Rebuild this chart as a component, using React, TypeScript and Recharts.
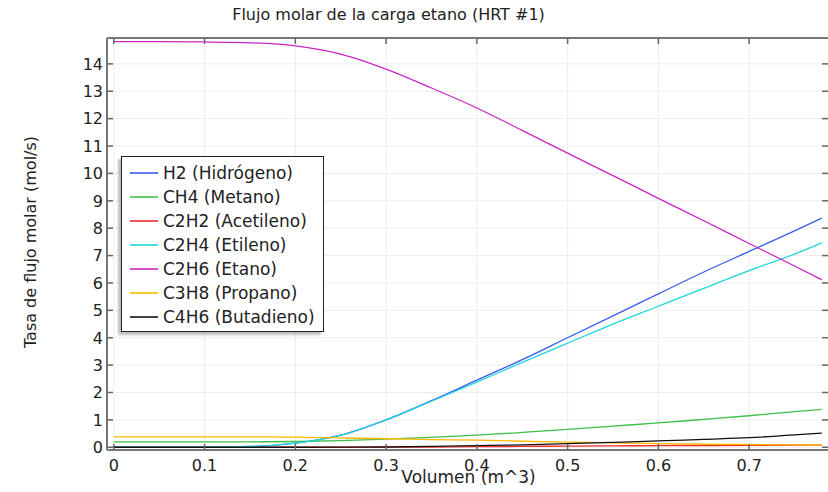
import React from "react";
import { LineChart, Line, XAxis, YAxis, CartesianGrid } from "recharts";

// Reactor volume (m^3)
const volumen = [0, 0.05, 0.1, 0.15, 0.2, 0.25, 0.3, 0.35, 0.4, 0.45, 0.5, 0.55, 0.6, 0.65, 0.7, 0.75, 0.78];

// Molar flow per species (mol/s)
const h2 = [0, 0, 0.005, 0.03, 0.15, 0.44, 1.0, 1.7, 2.45, 3.2, 4.0, 4.8, 5.6, 6.4, 7.15, 7.9, 8.37];
const ch4 = [0.2, 0.2, 0.2, 0.2, 0.21, 0.24, 0.3, 0.36, 0.44, 0.54, 0.65, 0.77, 0.89, 1.02, 1.15, 1.3, 1.38];
const c2h2 = [0, 0, 0, 0, 0, 0, 0.005, 0.01, 0.02, 0.03, 0.045, 0.05, 0.06, 0.065, 0.07, 0.075, 0.08];
const c2h4 = [0, 0, 0.005, 0.03, 0.15, 0.44, 1.0, 1.68, 2.38, 3.1, 3.8, 4.5, 5.15, 5.8, 6.45, 7.05, 7.46];
const c2h6 = [14.81, 14.81, 14.8, 14.77, 14.66, 14.36, 13.81, 13.12, 12.39, 11.57, 10.74, 9.92, 9.09, 8.27, 7.44, 6.62, 6.12];
const c3h8 = [0.38, 0.38, 0.38, 0.38, 0.37, 0.34, 0.31, 0.28, 0.26, 0.22, 0.19, 0.16, 0.13, 0.11, 0.1, 0.09, 0.08];
const c4h6 = [0, 0, 0, 0, 0, 0.005, 0.01, 0.03, 0.06, 0.09, 0.13, 0.18, 0.23, 0.29, 0.35, 0.45, 0.52];

const xTicks = [0, 0.1, 0.2, 0.3, 0.4, 0.5, 0.6, 0.7];
const yTicks = [0, 1, 2, 3, 4, 5, 6, 7, 8, 9, 10, 11, 12, 13, 14];

const series = [
  { key: "h2", name: "H2 (Hidrógeno)", color: "#3a5cf0", values: h2 },
  { key: "ch4", name: "CH4 (Metano)", color: "#3cc048", values: ch4 },
  { key: "c2h2", name: "C2H2 (Acetileno)", color: "#ee2a2a", values: c2h2 },
  { key: "c2h4", name: "C2H4 (Etileno)", color: "#1fd6dc", values: c2h4 },
  { key: "c2h6", name: "C2H6 (Etano)", color: "#c826c8", values: c2h6 },
  { key: "c3h8", name: "C3H8 (Propano)", color: "#ffb800", values: c3h8 },
  { key: "c4h6", name: "C4H6 (Butadieno)", color: "#111111", values: c4h6 },
];

const data = volumen.map((v, i) => {
  const row: Record<string, number> = { v };
  series.forEach((s) => {
    row[s.key] = s.values[i];
  });
  return row;
});

const FONT = "'DejaVu Sans', sans-serif";
const TICK_COLOR = "#666";
const X_DOMAIN: [number, number] = [-0.0075, 0.788];
const Y_DOMAIN: [number, number] = [-0.1, 14.945];

const LeftTick = (props: any) => {
  const { x, y, payload } = props;
  return (
    <g>
      <line x1={x + 4} x2={x + 10} y1={y} y2={y} stroke={TICK_COLOR} strokeWidth={1.5} />
      <text x={x} y={y} dy={5.8} textAnchor="end" fontSize={16} fontFamily={FONT} fill="#222">
        {payload.value}
      </text>
    </g>
  );
};

const BottomTick = (props: any) => {
  const { x, y, payload } = props;
  return (
    <g>
      <line x1={x} x2={x} y1={y} y2={y - 6} stroke={TICK_COLOR} strokeWidth={1.5} />
      <text x={x} y={y} dy={20.5} textAnchor="middle" fontSize={16} fontFamily={FONT} fill="#222">
        {payload.value}
      </text>
    </g>
  );
};

const RightTick = (props: any) => {
  const { x, y } = props;
  return <line x1={x - 7} x2={x} y1={y} y2={y} stroke={TICK_COLOR} strokeWidth={1.5} />;
};

const TopTick = (props: any) => {
  const { x, y } = props;
  return <line x1={x} x2={x} y1={y} y2={y + 6} stroke={TICK_COLOR} strokeWidth={1.5} />;
};

const YLabel = (props: any) => {
  const vb = props.viewBox || {};
  const cy = vb.y + vb.height / 2 - 2;
  return (
    <text
      x={30}
      y={cy}
      transform={`rotate(-90, 30, ${cy})`}
      textAnchor="middle"
      dominantBaseline="central"
      fontSize={16}
      fontFamily={FONT}
      fill="#222"
    >
      Tasa de flujo molar (mol/s)
    </text>
  );
};

const XLabel = () => (
  <text x={468.5} y={483} textAnchor="middle" fontSize={17} fontFamily={FONT} fill="#222">
    Volumen (m^3)
  </text>
);

const LegendBox = () => (
  <div
    style={{
      position: "absolute",
      left: 121,
      top: 156,
      width: 203,
      height: 176,
      border: "1px solid #222",
      background: "#fff",
      boxShadow: "-3px 3px 2px rgba(0,0,0,0.25)",
      padding: "4px 0",
      boxSizing: "border-box",
      fontFamily: FONT,
      fontSize: 17,
      color: "#222",
    }}
  >
    {series.map((s) => (
      <div key={s.key} style={{ display: "flex", alignItems: "center", height: 24 }}>
        <svg width={41} height={24} style={{ flex: "none" }}>
          <line x1={8} x2={36} y1={12} y2={12} stroke={s.color} strokeWidth={1.6} />
        </svg>
        <span style={{ whiteSpace: "nowrap" }}>{s.name}</span>
      </div>
    ))}
  </div>
);

export default function App() {
  return (
    <div
      style={{
        position: "absolute",
        left: 0,
        top: 0,
        width: 828,
        height: 492,
        overflow: "hidden",
        background: "#fff",
      }}
    >
      <div
        style={{
          position: "absolute",
          left: 0,
          top: 5,
          width: 777,
          textAlign: "center",
          fontFamily: FONT,
          fontSize: 16,
          color: "#222",
        }}
      >
        Flujo molar de la carga etano (HRT #1)
      </div>
      <LineChart
        width={836}
        height={492}
        data={data}
        margin={{ top: 37, right: 0, left: 0, bottom: 0 }}
      >
        <CartesianGrid xAxisId="b" yAxisId="l" stroke="#ededed" strokeWidth={1} />
        <XAxis
          xAxisId="b"
          dataKey="v"
          type="number"
          domain={X_DOMAIN}
          ticks={xTicks}
          allowDataOverflow
          height={42}
          tickSize={0}
          tickMargin={0}
          tickLine={false}
          axisLine={{ stroke: "#777", strokeWidth: 2 }}
          tick={<BottomTick />}
          interval={0}
          label={<XLabel />}
        />
        <XAxis
          xAxisId="t"
          dataKey="v"
          type="number"
          orientation="top"
          domain={X_DOMAIN}
          ticks={xTicks}
          allowDataOverflow
          height={1}
          tickSize={0}
          tickMargin={0}
          tickLine={false}
          axisLine={{ stroke: "#777", strokeWidth: 2 }}
          tick={<TopTick />}
          interval={0}
        />
        <YAxis
          yAxisId="l"
          type="number"
          domain={Y_DOMAIN}
          ticks={yTicks}
          allowDataOverflow
          width={107}
          tickSize={0}
          tickMargin={4}
          tickLine={false}
          axisLine={{ stroke: "#777", strokeWidth: 2 }}
          tick={<LeftTick />}
          interval={0}
          label={<YLabel />}
        />
        <YAxis
          yAxisId="r"
          orientation="right"
          type="number"
          domain={Y_DOMAIN}
          ticks={yTicks}
          allowDataOverflow
          width={7}
          tickSize={0}
          tickMargin={0}
          tickLine={false}
          axisLine={{ stroke: "#777", strokeWidth: 2 }}
          tick={<RightTick />}
          interval={0}
        />
        {series.map((s) => (
          <Line
            key={s.key}
            xAxisId="b"
            yAxisId="l"
            dataKey={s.key}
            name={s.name}
            type="monotone"
            stroke={s.color}
            strokeWidth={1.3}
            dot={false}
            isAnimationActive={false}
          />
        ))}
      </LineChart>
      <LegendBox />
    </div>
  );
}
